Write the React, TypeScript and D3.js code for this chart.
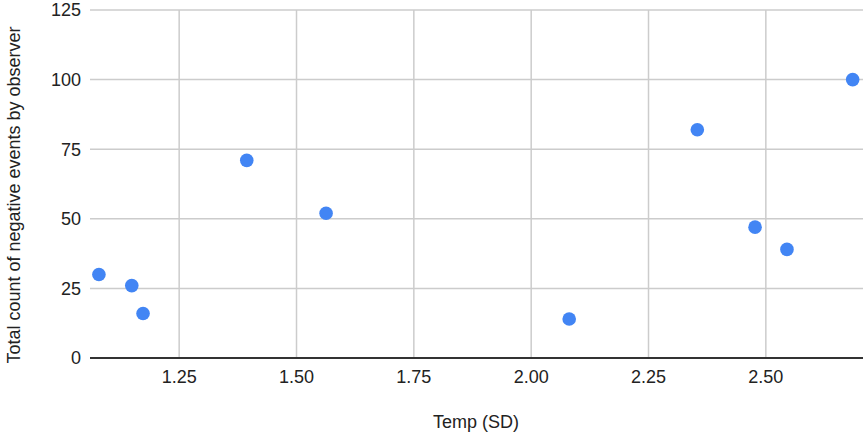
import React from 'react';
import * as d3 from 'd3';

// observations: temperature (SD) vs. negative events counted
const tempSD = [1.079, 1.149, 1.173, 1.394, 1.563, 2.081, 2.354, 2.477, 2.545, 2.685];
const negEvents = [30, 26, 16, 71, 52, 14, 82, 47, 39, 100];
const xTicks = [1.25, 1.5, 1.75, 2.0, 2.25, 2.5];
const yTicks = [0, 25, 50, 75, 100, 125];

const W = 867;
const H = 434;
const margin = { top: 10, right: 4, bottom: 76, left: 90 };
const font = 'Arial, "Liberation Sans", sans-serif';

export default function App() {
    const x = d3.scaleLinear()
        .domain([1.06, 2.707])
        .range([margin.left, W - margin.right]);
    const y = d3.scaleLinear()
        .domain([0, 125])
        .range([H - margin.bottom, margin.top]);

    const pts = tempSD.map((t, i) => ({ t, v: negEvents[i] }));

    return (
        <svg width={W} height={H} style={{ position: 'absolute', left: 0, top: 0, background: '#fff' }}
            fontFamily={font}>
            {/* horizontal grid */}
            {yTicks.filter(d => d > 0).map(d => (
                <line key={'gy' + d} x1={x.range()[0]} x2={x.range()[1]} y1={y(d)} y2={y(d)}
                    stroke="#cccccc" strokeWidth={1.5} />
            ))}
            {/* vertical grid */}
            {xTicks.map(d => (
                <line key={'gx' + d} x1={x(d)} x2={x(d)} y1={y(125)} y2={y(0)}
                    stroke="#cccccc" strokeWidth={1.5} />
            ))}
            {/* baseline */}
            <line x1={x.range()[0]} x2={x.range()[1]} y1={y(0)} y2={y(0)} stroke="#333" strokeWidth={1.8} />

            {yTicks.map(d => (
                <text key={'ty' + d} x={81} y={y(d)} dy="0.36em" textAnchor="end" fontSize={18} fill="#222">
                    {d}
                </text>
            ))}
            {xTicks.map(d => (
                <text key={'tx' + d} x={x(d)} y={383} textAnchor="middle" fontSize={18} fill="#222">
                    {d3.format('.2f')(d)}
                </text>
            ))}

            {pts.map((p, i) => (
                <circle key={i} cx={x(p.t)} cy={y(p.v)} r={6.8} fill="#4285f4" />
            ))}

            <text x={476} y={428} textAnchor="middle" fontSize={18} fill="#222">Temp (SD)</text>
            <text transform={`translate(20,${195}) rotate(-90)`} textAnchor="middle" fontSize={18} fill="#222">
                Total count of negative events by observer
            </text>
        </svg>
    );
}
